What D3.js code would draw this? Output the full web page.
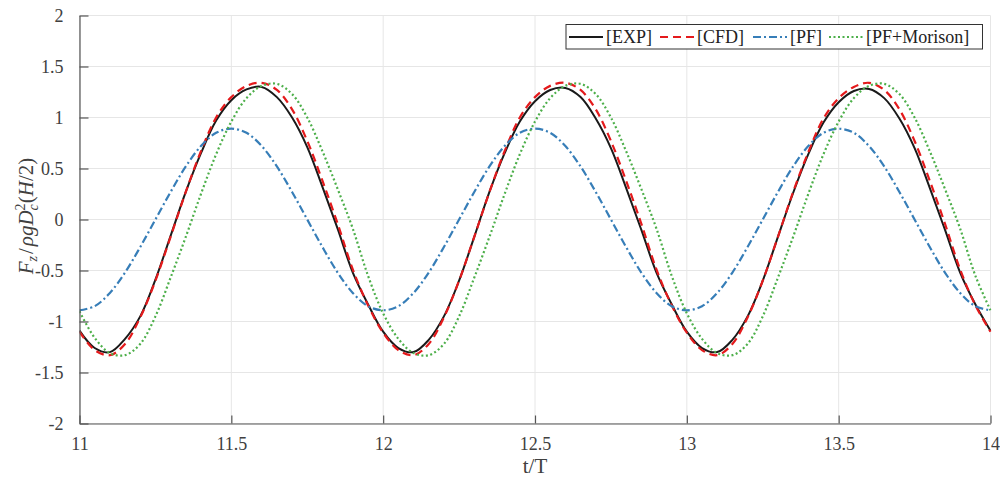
<!DOCTYPE html>
<html><head><meta charset="utf-8">
<script src="https://cdn.jsdelivr.net/npm/d3@7"></script>
<style>html,body{margin:0;padding:0;background:#fff;}svg{display:block;}</style>
</head><body>
<svg id="chart" width="1000" height="481"></svg>
<script>
const time = [11.00,11.05,11.10,11.15,11.20,11.25,11.30,11.35,11.40,11.45,11.50,11.55,11.60,11.65,11.70,11.75,11.80,11.85,11.90,11.95,
  12.00,12.05,12.10,12.15,12.20,12.25,12.30,12.35,12.40,12.45,12.50,12.55,12.60,12.65,12.70,12.75,12.80,12.85,12.90,12.95,
  13.00,13.05,13.10,13.15,13.20,13.25,13.30,13.35,13.40,13.45,13.50,13.55,13.60,13.65,13.70,13.75,13.80,13.85,13.90,13.95,14.00];
const expV = [-1.09,-1.26,-1.30,-1.17,-0.95,-0.59,-0.16,0.27,0.65,0.97,1.17,1.275,1.30,1.20,1.00,0.71,0.32,-0.09,-0.52,-0.83,
  -1.10,-1.26,-1.30,-1.18,-0.95,-0.60,-0.17,0.27,0.65,0.96,1.16,1.27,1.29,1.20,0.99,0.70,0.31,-0.10,-0.52,-0.83,
  -1.10,-1.26,-1.30,-1.18,-0.95,-0.60,-0.17,0.26,0.64,0.95,1.15,1.26,1.28,1.19,0.99,0.70,0.31,-0.10,-0.52,-0.83,-1.09];
const cfdV = [-1.10,-1.28,-1.33,-1.22,-0.96,-0.60,-0.17,0.27,0.67,1.00,1.20,1.31,1.34,1.27,1.08,0.77,0.38,-0.04,-0.49,-0.84,
  -1.11,-1.28,-1.33,-1.22,-0.96,-0.60,-0.17,0.27,0.67,1.00,1.20,1.31,1.34,1.27,1.08,0.77,0.38,-0.04,-0.49,-0.84,
  -1.11,-1.28,-1.33,-1.22,-0.96,-0.60,-0.17,0.27,0.66,0.99,1.19,1.30,1.34,1.27,1.08,0.77,0.38,-0.04,-0.49,-0.84,-1.10];
const pfV = [-0.89,-0.85,-0.72,-0.52,-0.27,0.00,0.27,0.52,0.72,0.85,0.89,0.85,0.72,0.52,0.27,0.00,-0.27,-0.52,-0.72,-0.85,
  -0.89,-0.85,-0.72,-0.52,-0.27,0.00,0.27,0.52,0.72,0.85,0.89,0.85,0.72,0.52,0.27,0.00,-0.27,-0.52,-0.72,-0.85,
  -0.89,-0.85,-0.72,-0.52,-0.27,0.00,0.27,0.52,0.72,0.85,0.89,0.85,0.72,0.52,0.27,0.00,-0.27,-0.52,-0.72,-0.85,-0.89];
const pfmV = [-0.90,-1.16,-1.31,-1.33,-1.22,-0.95,-0.57,-0.17,0.25,0.64,0.96,1.19,1.31,1.33,1.23,1.00,0.67,0.30,-0.09,-0.55,
  -0.92,-1.17,-1.31,-1.33,-1.22,-0.95,-0.57,-0.17,0.25,0.64,0.96,1.19,1.31,1.33,1.23,1.00,0.67,0.30,-0.09,-0.55,
  -0.92,-1.17,-1.31,-1.33,-1.22,-0.95,-0.57,-0.17,0.25,0.64,0.96,1.19,1.31,1.33,1.23,1.00,0.67,0.30,-0.09,-0.55,-0.89];
const seriesNames = ["[EXP]","[CFD]","[PF]","[PF+Morison]"];
const xTicks = [11,11.5,12,12.5,13,13.5,14];
const xTickLabels = ["11","11.5","12","12.5","13","13.5","14"];
const yTicks = [-2,-1.5,-1,-0.5,0,0.5,1,1.5,2];
const yTickLabels = ["-2","-1.5","-1","-0.5","0","0.5","1","1.5","2"];

const svg = d3.select("#chart");
const L = 79.5, R = 990.5, T = 15.5, B = 423.5;
const x = d3.scaleLinear().domain([11,14]).range([L,R]);
const y = d3.scaleLinear().domain([-2,2]).range([B,T]);
const font = "'Liberation Serif','Times New Roman',serif";
const txtCol = "#404040";

// grid
const g = svg.append("g");
g.selectAll(".gx").data(xTicks).join("line")
  .attr("x1",d=>x(d)).attr("x2",d=>x(d)).attr("y1",T).attr("y2",B)
  .attr("stroke","#e6e6e6").attr("stroke-width",1);
g.selectAll(".gy").data(yTicks).join("line")
  .attr("y1",d=>y(d)).attr("y2",d=>y(d)).attr("x1",L).attr("x2",R)
  .attr("stroke","#e6e6e6").attr("stroke-width",1);

svg.append("defs").append("clipPath").attr("id","clip")
  .append("rect").attr("x",L).attr("y",T-2).attr("width",R-L+1).attr("height",B-T+4);

const series = [
  {name:seriesNames[0], v:expV, color:"#1a1a1a", dash:null, w:2},
  {name:seriesNames[1], v:cfdV, color:"#e41a1c", dash:"8,5", w:2.2},
  {name:seriesNames[2], v:pfV, color:"#377eb8", dash:"8,3,2,3", w:2.2},
  {name:seriesNames[3], v:pfmV, color:"#4daf4a", dash:"2,2.5", w:2.2}
];
const line = d3.line().x((d,i)=>x(time[i])).y(d=>y(d)).curve(d3.curveCatmullRom.alpha(0.5));
const lg = svg.append("g").attr("clip-path","url(#clip)");
series.forEach(s=>{
  lg.append("path").attr("d",line(s.v)).attr("fill","none")
    .attr("stroke",s.color).attr("stroke-width",s.w)
    .attr("stroke-dasharray",s.dash).attr("stroke-linejoin","round");
});

// axes
const xAxis = d3.axisBottom(x).tickValues(xTicks).tickFormat((d,i)=>xTickLabels[i]).tickSizeInner(-8).tickSizeOuter(0).tickPadding(14);
const yAxis = d3.axisLeft(y).tickValues(yTicks).tickFormat((d,i)=>yTickLabels[i]).tickSizeInner(-9).tickSizeOuter(0).tickPadding(16);
const ax = svg.append("g").attr("transform",`translate(0,${B})`).call(xAxis);
const ay = svg.append("g").attr("transform",`translate(${L},0)`).call(yAxis);
[ax,ay].forEach(a=>{
  a.select(".domain").attr("stroke","#555").attr("stroke-width",1.2);
  a.selectAll(".tick line").attr("stroke","#555").attr("stroke-width",1.2);
  a.selectAll("text").attr("fill",txtCol).style("font-family",font).style("font-size","18px");
});

// axis titles
svg.append("text").attr("x",(L+R)/2).attr("y",473).attr("text-anchor","middle")
  .attr("fill",txtCol).style("font-family",font).style("font-size","21px").text("t/T");

const yl = svg.append("text").attr("transform","translate(33,216) rotate(-90)")
  .attr("text-anchor","middle").attr("fill",txtCol).style("font-family",font).style("font-size","21px");
yl.append("tspan").style("font-style","italic").text("F");
yl.append("tspan").style("font-style","italic").style("font-size","14px").attr("dy",4).text("z");
yl.append("tspan").attr("dy",-4).attr("dx",2).text("/");
yl.append("tspan").style("font-style","italic").attr("dx",2).text("ρgD");
yl.append("tspan").style("font-size","14px").attr("dy",-8).text("2");
yl.append("tspan").style("font-style","italic").style("font-size","14px").attr("dx",-7).attr("dy",13).text("c");
yl.append("tspan").attr("dy",-5).attr("dx",1).text("(");
yl.append("tspan").style("font-style","italic").text("H");
yl.append("tspan").text("/2)");

// legend
const leg = svg.append("g");
leg.append("rect").attr("x",566).attr("y",24.5).attr("width",416.5).attr("height",24.5)
  .attr("fill","#fff").attr("stroke","#333").attr("stroke-width",1);
const legPos = [{lx:569,tx:606},{lx:660,tx:697},{lx:753,tx:790},{lx:829,tx:866}];
series.forEach((s,i)=>{
  const p = legPos[i];
  leg.append("line").attr("x1",p.lx).attr("x2",p.lx+34).attr("y1",37).attr("y2",37)
    .attr("stroke",s.color).attr("stroke-width",s.w).attr("stroke-dasharray",s.dash);
  leg.append("text").attr("x",p.tx).attr("y",43).attr("fill","#222")
    .style("font-family",font).style("font-size","18px").text(s.name);
});
</script>
</body></html>
